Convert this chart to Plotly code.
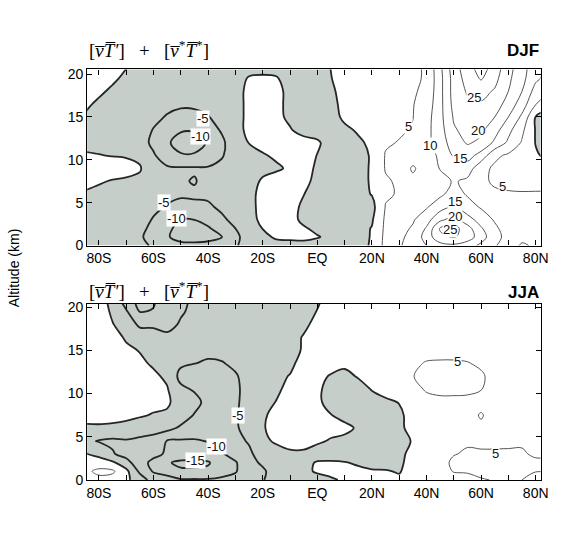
import plotly.graph_objects as go

# ---------------- data ----------------
lat = [-85, -80, -75, -70, -65, -60, -55, -50, -45, -40, -35, -30, -25, -20, -15, -10, -5,
       0, 5, 10, 15, 20, 25, 30, 35, 40, 45, 50, 55, 60, 65, 70, 75, 80, 85]
alt = [0, 1, 2, 3, 4.5, 6, 7.5, 9, 10.5, 12, 13.5, 15, 16.5, 18, 19.5, 21]

# northward eddy transport of sensible heat, DJF (rows = altitude, cols = latitude)
djf_z = [
    [-2, -2, -2, -2.5, -4, -5.5, -7.5, -8.5, -8.5, -8, -6.5, -5.5, -3, -2, -2, -2, -2, -2, -1.5, -2, -1.5, 0.5, 6.5, 9.5, 12, 15, 18, 19, 17, 14, 10.5, 7, 4.5, 5.5, 5],
    [-2, -2, -2, -2.5, -4.5, -6.5, -9.5, -12, -12.5, -12, -10.3, -6.5, -2, -1.5, 0.8, 1.2, 1.5, 0.3, -1, -2, -1.5, 0.3, 6.3, 9, 11.5, 17, 24, 25.5, 23, 17, 12, 8, 6, 6, 5.5],
    [-2, -2, -2, -2.5, -4, -6, -9, -11.5, -11.5, -10.5, -8, -5, -1.5, 0.1, 1.5, 1.5, 0.5, -1, -1.5, -2, -1.5, 0.2, 6, 8.5, 10.5, 15.5, 25.5, 27, 22, 15.5, 11, 7.5, 6, 6, 5.5],
    [-2, -2, -2, -2.5, -3.5, -5.3, -7.5, -10.2, -10, -8.5, -6, -3.5, -1.2, 0.8, 1.5, 1.5, -1, -1.5, -2, -2, -2, -0.5, 5.8, 7.5, 9.5, 13, 19, 22, 17, 13, 9.5, 7, 6, 6, 5.5],
    [-1.5, -1.5, -1.5, -2, -2.5, -4.2, -5.3, -6.5, -6, -5.8, -4, -2.5, -1, 1, 1.5, 1.5, -0.8, -2, -2, -2, -2, -1.5, 5.2, 7, 8, 9.5, 13, 16, 12, 9.5, 8, 6.5, 5.8, 5.8, 5.5],
    [-0.5, -0.8, -1, -1.5, -2, -3.2, -4, -4.3, -4.3, -4, -3, -2, -1, 1, 1.5, 1.5, 0.1, -1.5, -2, -2, -1.5, 0.2, 4.5, 5.3, 7.5, 7.5, 9, 12, 9.5, 7.5, 5.8, 5.3, 5.2, 5.2, 5.2],
    [1.2, 0.3, -0.2, -0.5, -1, -3, -3.5, -4.5, -5.3, -3.5, -3, -2, -1.5, 0.5, 1.5, 1.5, 0.8, -0.8, -2, -2, -1.5, 0.5, 4.5, 5.6, 8.5, 6.5, 8, 10.5, 9, 6, 4.3, 4.2, 4.2, 4.3, 4.3],
    [2.5, 2, 1.5, 1.2, 0.4, -3.5, -4.5, -4.5, -4.5, -4.5, -3.5, -2, -1.5, -1, -0.5, 0.5, 1.2, -0.5, -2, -2, -1.5, 0.5, 5.3, 6, 10.8, 7, 10.3, 12, 12.5, 6.5, 4.2, 3.8, 3.5, 3, 2.5],
    [0.2, 0.1, -0.1, -0.3, -1, -4.6, -7, -9.5, -9.5, -8, -5.5, -2, -1, -0.3, 0.5, 2, 1.5, -0.1, -1.5, -2, -1, 0.3, 5.3, 6, 7, 7.5, 11, 15.5, 17, 13, 6, 4.2, 3.3, 0.5, -1],
    [-0.5, -0.8, -1.2, -2, -3.5, -5.8, -9.3, -12, -12, -9.5, -6, -2, 0.1, 1, 2, 1.5, 1.5, 0.5, -1.5, -1.5, -0.4, 0.5, 4.5, 5.2, 6.5, 8.5, 12.5, 17.5, 20.5, 19, 14, 9, 4.5, -0.2, -2],
    [-0.8, -1, -1.5, -2.3, -3, -5.2, -7, -9.5, -9.5, -7, -4.5, -1.5, 1, 2, 1.5, 0.3, -1.5, -1.5, -1.5, -0.5, 0.3, 1.5, 4, 4.5, 5.3, 8.5, 13, 19.5, 21.5, 21, 17, 11.5, 6, -0.3, -2],
    [-0.3, -1, -1.5, -2.2, -3, -4, -5.3, -6, -5.8, -5.2, -3.5, -1.5, 1, 2, 1, -0.8, -1.5, -2, -1, 0.5, 1, 2.5, 3.5, 4.3, 4.9, 8, 13.5, 20.5, 22.5, 23, 20, 15, 9, -0.2, -1.5],
    [0.5, -0.5, -1.2, -1.8, -2.5, -3.5, -4, -4.5, -4.5, -4, -3, -1.5, 1, 2, 1.2, -1.2, -2, -2, -0.8, 0.8, 1.5, 2.8, 3.5, 4, 4.8, 7, 13.5, 21.5, 24, 24.5, 22.5, 18, 12.5, 5.2, 1],
    [1.5, 0.5, -0.5, -1.2, -2, -3, -3.2, -3.5, -3.5, -3.5, -2.5, -1.5, 1, 2, 1.2, -1.2, -2, -2, -0.5, 1, 2, 3, 3.5, 3.8, 4.5, 6, 13.5, 22, 25.5, 26.5, 24.5, 20, 15, 8, 5.5],
    [2.5, 1.5, 0.5, -0.6, -1.5, -2.5, -2.8, -3, -3, -3, -2.2, -1.5, 0.3, 0.6, 0.3, -1.5, -2, -1.2, -0.1, 1.3, 2.5, 3, 3.5, 3.8, 4.2, 5.5, 13.5, 22, 27, 30.5, 26.5, 21, 16.5, 11, 8],
    [3, 2, 1.2, 0.2, -1, -2, -2.5, -2.5, -2.5, -2.5, -2, -1.5, -1.5, -1.5, -1.5, -2, -2, -1.5, 0.1, 1.5, 2.5, 3, 3.5, 4, 4.2, 5.5, 14, 23, 28, 33, 28, 22, 17, 12, 9],
]

# JJA
jja_z = [
    [3, 3.8, 3, 1, -2.5, -7, -8, -9.5, -9.5, -9.5, -9, -8, -5.5, -5.2, -3.5, -2, -1, -1.5, -0.5, 0.5, 1, 0.8, 0.8, 0.5, 1.5, 2.5, 3, 3.5, 4, 4.7, 5.2, 5.5, 5, 3.8, 4.2],
    [4, 6, 5.8, 1.2, -6, -10.5, -12, -14.3, -14.3, -14, -12, -10.5, -6, -5.5, -3.5, -1.5, -1, 0.5, 1, 1, 0.8, 0.3, 0.2, -0.2, 1.2, 2.5, 3.5, 5.2, 5.3, 6, 6, 6, 5.8, 5.1, 5.2],
    [3, 2.5, 0.8, -3, -8.5, -11, -14.5, -16, -16, -15.5, -12, -10.5, -6, -4.5, -3, -1.5, -1, 0.3, 0.5, 0.2, -0.5, -1, -1, -0.5, 1, 2.5, 3.5, 5.8, 6, 6.5, 6.5, 6.5, 6.3, 6, 5.8],
    [0.3, -1.5, -4.5, -7, -8, -9, -10.5, -12, -12, -12, -10.5, -8, -6, -2.5, -1.5, -0.5, -0.5, -1.5, -2, -2, -1.5, -1.5, -1.2, -0.5, 0.6, 2, 3, 4.8, 5.5, 5.3, 5.5, 5.5, 5.6, 4.2, 4.5],
    [-4, -5.3, -6, -5.5, -6.5, -7.5, -10.2, -10.5, -10.5, -9.8, -8, -6.5, -4.5, -0.8, 0.5, 1, 1, 0.5, -0.3, -0.8, -1, -1.5, -1.2, -0.5, 0.1, 1.5, 3, 3.5, 4.5, 4.5, 4.2, 4.3, 4.3, 4.2, 4],
    [-0.5, -0.5, -0.5, -1, -1.5, -2.5, -3.5, -5.8, -7, -7.5, -6.5, -5.5, -3.5, -0.3, 1.2, 1.5, 1.5, 1.2, 1, 0.8, -0.4, -1.5, -1.5, -0.5, 0.8, 2, 3, 3.5, 4.5, 4.6, 4, 4, 4, 4, 4],
    [1, 1.2, 0.8, 0.8, 0.3, -0.2, -0.5, -2.5, -5.3, -6, -6.5, -5.5, -3, -0.5, 1, 1.5, 1.5, 1.2, 0.1, -1, -2, -2, -1.5, -0.5, 1, 2.5, 3, 3.5, 4.2, 5.2, 4, 4, 4, 4, 4],
    [2, 2.5, 2, 1.5, 1.2, 0.8, 0.5, -1.5, -3.5, -6.5, -7, -5.8, -3, -1, 0.1, 1.2, 1.5, 0.8, -1.5, -2, -2.5, -1.5, -0.5, 0.1, 1.5, 3.5, 4, 4, 4, 4.2, 3.5, 3.5, 3.5, 3.5, 3.5],
    [2.5, 3, 3, 2, 1.5, 1, 0.3, -4, -5.5, -7.5, -7.5, -6, -3, -1.2, -0.5, 0.8, 1.3, 0.8, -1.5, -2, -1.5, 0.2, 1, 2, 3.5, 5.5, 6, 6, 5.8, 5.1, 3.5, 3.5, 3.5, 3.5, 3.5],
    [3, 3.5, 3, 2, 1.2, 0.8, -0.8, -6.5, -7.5, -7.5, -7, -5.5, -3, -1.5, -0.5, 0.1, 1, 1, -0.3, -1, 0.3, 1.5, 2, 3, 4.9, 6, 6.5, 6.5, 6, 5.6, 3.5, 3.5, 3.5, 3.5, 3.5],
    [3, 3.5, 2.5, 1.5, 0.8, -0.6, -2, -4.2, -4.9, -5.5, -5.3, -4, -3, -1.5, -0.8, -0.5, 0.8, 1, 1.5, 0.8, 1.5, 2.5, 3, 3.5, 4.2, 5.3, 5.5, 5.5, 5.2, 4.3, 3.2, 3, 3, 3, 3],
    [3, 3, 2, 0.8, -0.2, -1.2, -3, -3.5, -3.5, -4, -3.5, -3, -2.5, -1.5, -1, -0.7, 0.2, 1, 2, 2, 2.5, 3, 3.5, 4, 3.5, 3.5, 3.5, 3.5, 3.5, 3, 3, 3, 3, 3, 3],
    [3, 2.5, 1.5, -0.5, -2, -2.5, -4, -3.5, -3, -3, -3, -2.5, -2, -1.5, -1.2, -1, 0.2, 1, 2, 2.5, 3, 3.5, 4, 4, 3.5, 3, 3, 3, 3, 3, 3, 3, 3, 3, 3],
    [3.5, 2.5, 0.2, -2, -6, -6, -6.5, -4.5, -3.5, -3, -2.5, -2, -2, -1.5, -1.5, -1.2, -0.6, 0.8, 2, 2.5, 3, 3.5, 4, 4, 3.5, 3, 3, 3, 3, 3, 3, 3, 3, 3, 3],
    [4, 2.5, -0.8, -4.5, -10.2, -9.8, -7, -5.5, -4, -3, -2.5, -2, -1.5, -1.5, -1.5, -1.5, -1.2, 0.1, 1.5, 2, 2.5, 3, 3.5, 3.5, 3.2, 3, 3, 3, 3, 3, 3, 3, 3, 3, 3],
    [4, 2.5, -2, -8, -11.5, -10.5, -7, -6, -4.3, -3, -2.5, -2, -2, -1.5, -1.5, -1.5, -1.5, -0.5, 1, 1.5, 2, 2.5, 3, 3, 3, 3, 3, 3, 3, 3, 3, 3, 3, 3, 3],
]

lat_tickvals = [-80, -70, -60, -50, -40, -30, -20, -10, 0, 10, 20, 30, 40, 50, 60, 70, 80]
lat_ticktext = ['80S', '', '60S', '', '40S', '', '20S', '', 'EQ', '', '20N', '', '40N', '', '60N', '', '80N']
alt_tickvals = [0, 5, 10, 15, 20]

# contour labels
djf_lab_lat = [-41.7, -42.9, -56.2, -51.4, 33.5, 41.3, 57.5, 58.7, 52.1, 67.8, 50.3, 50.3, 48.5]
djf_lab_alt = [14.8, 12.7, 5.0, 3.1, 13.9, 11.7, 17.3, 13.4, 10.1, 6.85, 5.15, 3.4, 1.9]
djf_lab_txt = ['-5', '-10', '-5', '-10', '5', '10', '25', '20', '15', '5', '15', '20', '25']

jja_lab_lat = [-29.1, -36.9, -44.7, 51.5, 65.4]
jja_lab_alt = [7.5, 3.9, 2.2, 13.7, 3.0]
jja_lab_txt = ['-5', '-10', '-15', '5', '5']

panel_titles = ['DJF', 'JJA']

# ---------------- styling ----------------
GRAY = 'rgb(198,206,202)'
DARK = '#262626'
POSLINE = '#555555'
FONT = 'Liberation Sans, Arial, Helvetica, sans-serif'

fig = go.Figure()


def add_panel(z, xa, ya):
    common = dict(x=lat, y=alt, z=z, xaxis=xa, yaxis=ya, showscale=False,
                  hoverinfo='skip')
    # plotly shades the region that fails the constraint -> shade z < 0
    fig.add_trace(go.Contour(
        **common,
        contours=dict(type='constraint', operation='>', value=0),
        fillcolor=GRAY,
        line=dict(color=DARK, width=1.8, smoothing=1.0)))
    fig.add_trace(go.Contour(
        **common, autocontour=False,
        contours=dict(coloring='none', start=-30, end=-5, size=5),
        line=dict(color=DARK, width=1.8, smoothing=1.0)))
    fig.add_trace(go.Contour(
        **common, autocontour=False,
        contours=dict(coloring='none', start=5, end=35, size=5),
        line=dict(color=POSLINE, width=1.0, smoothing=1.0)))


add_panel(djf_z, 'x', 'y')
add_panel(jja_z, 'x2', 'y2')

xl, xr = 87.5 / 588, 548 / 588
dom_top = [290.5 / 537, 471 / 537]
dom_bot = [50.3 / 537, 231 / 537]

axis_common = dict(showline=True, linecolor='black', linewidth=1.2, mirror='ticks',
                   ticks='inside', ticklen=5, tickwidth=1, tickcolor='black',
                   showgrid=False, zeroline=False,
                   tickfont=dict(family=FONT, size=14, color='black'))

fig.update_layout(
    width=588, height=537,
    margin=dict(l=0, r=0, t=0, b=0),
    paper_bgcolor='white', plot_bgcolor='white',
    showlegend=False,
    xaxis=dict(**axis_common, domain=[xl, xr], range=[-84.3, 81.8], anchor='y',
               tickmode='array', tickvals=lat_tickvals, ticktext=lat_ticktext),
    yaxis=dict(**axis_common, domain=dom_top, range=[0, 20.55], anchor='x',
               tickmode='array', tickvals=alt_tickvals),
    xaxis2=dict(**axis_common, domain=[xl, xr], range=[-84.3, 81.8], anchor='y2',
                tickmode='array', tickvals=lat_tickvals, ticktext=lat_ticktext),
    yaxis2=dict(**axis_common, domain=dom_bot, range=[0, 20.4], anchor='x2',
                tickmode='array', tickvals=alt_tickvals),
)

annos = []
title_txt = ("[<i>v\u0305T\u0305\u2032</i>] \u2002+\u2002 "
             "[<i>v\u0305</i><sup>*</sup><i>T\u0305</i><sup>*</sup>]")
for ytitle, yname, name in [(492 / 537, 490 / 537, panel_titles[0]),
                            (245 / 537, 242 / 537, panel_titles[1])]:
    annos.append(dict(xref='paper', yref='paper', x=xl, y=ytitle, xanchor='left',
                      yanchor='middle', showarrow=False, text=title_txt,
                      font=dict(family='Liberation Serif, Times New Roman, serif',
                                size=19, color='black')))
    annos.append(dict(xref='paper', yref='paper', x=xr, y=yname, xanchor='right',
                      yanchor='middle', showarrow=False, text='<b>' + name + '</b>',
                      font=dict(family=FONT, size=17, color='black')))

annos.append(dict(xref='paper', yref='paper', x=14 / 588, y=268 / 537,
                  xanchor='center', yanchor='middle', showarrow=False,
                  text='Altitude (km)', textangle=-90,
                  font=dict(family=FONT, size=14, color='black')))

for la, al, tx in zip(djf_lab_lat, djf_lab_alt, djf_lab_txt):
    annos.append(dict(xref='x', yref='y', x=la, y=al, text=tx, showarrow=False,
                      bgcolor='white', borderpad=0,
                      font=dict(family=FONT, size=13, color='#111')))
for la, al, tx in zip(jja_lab_lat, jja_lab_alt, jja_lab_txt):
    annos.append(dict(xref='x2', yref='y2', x=la, y=al, text=tx, showarrow=False,
                      bgcolor='white', borderpad=0,
                      font=dict(family=FONT, size=13, color='#111')))

fig.update_layout(annotations=annos)

fig.write_html("out.html",
               config={'displayModeBar': False},
               post_script="document.body.style.margin='0';"
                           "document.body.style.overflow='hidden';")
